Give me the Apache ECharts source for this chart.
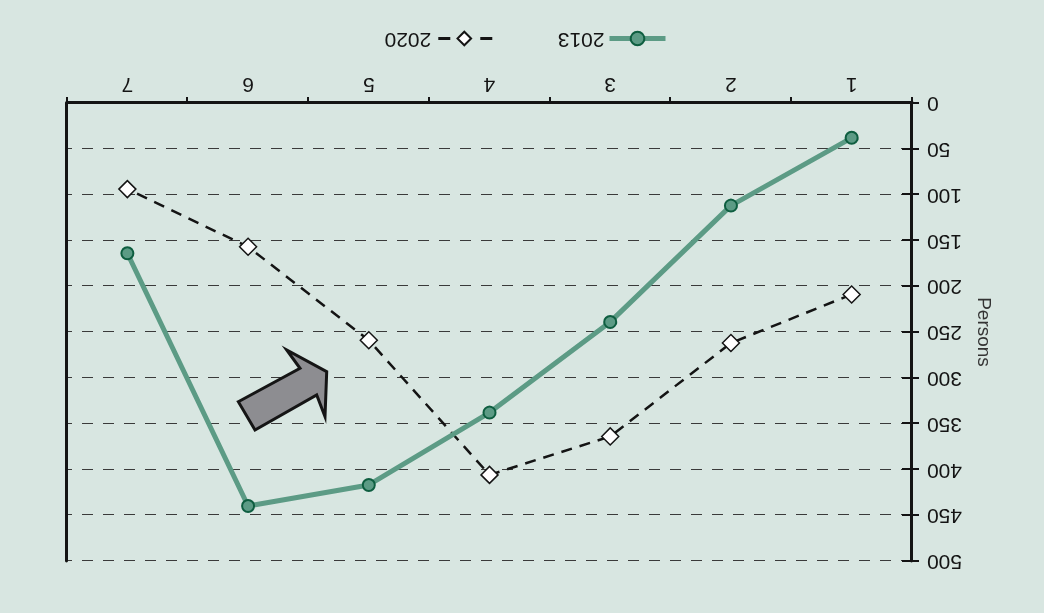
<!DOCTYPE html>
<html>
<head>
<meta charset="utf-8">
<script src="https://cdn.jsdelivr.net/npm/echarts@6/dist/echarts.min.js"></script>
<style>
  html, body { margin: 0; padding: 0; background: #d8e6e1; }
  #chart { width: 1044px; height: 613px; transform: rotate(180deg); transform-origin: 50% 50%; }
</style>
</head>
<body>
<div id="chart"></div>
<script>
// Categories along the horizontal axis
const categories = ['1', '2', '3', '4', '5', '6', '7'];
// Persons per category
const persons2013 = [38, 112, 239, 338, 417, 440, 164];
const persons2020 = [209, 262, 364, 406, 259, 157, 94];
// Vertical scale
const yMin = 0;
const yMax = 500;
const yStep = 50;
const yTitle = 'Persons';

const FONT = '"Liberation Sans", Arial, sans-serif';
const INK = '#141414';
const GREEN = '#5c9b85';
const GREEN_DARK = '#0e5e40';

const chart = echarts.init(document.getElementById('chart'), null, { renderer: 'canvas' });

chart.setOption({
  backgroundColor: '#d8e6e1',
  animation: false,
  textStyle: { fontFamily: FONT },
  grid: { left: 132, right: 67, top: 52, bottom: 103, containLabel: false },
  legend: {
    left: 371,
    top: 559,
    itemWidth: 56,
    itemHeight: 17,
    itemGap: 64,
    textStyle: { fontSize: 21, color: INK, fontFamily: FONT },
    data: [
      { name: '2013', lineStyle: { width: 5, color: GREEN } },
      { name: '2020', lineStyle: { width: 3, color: INK, type: [12, 30] } }
    ]
  },
  xAxis: {
    type: 'category',
    data: categories,
    boundaryGap: true,
    axisLine: { show: true, lineStyle: { color: INK, width: 3 } },
    axisTick: { show: true, length: 6, lineStyle: { color: INK, width: 2 } },
    axisLabel: { fontSize: 21, color: INK, margin: 9, fontFamily: FONT },
    splitLine: { show: false }
  },
  yAxis: [
    {
      type: 'value',
      position: 'left',
      min: yMin, max: yMax, interval: yStep,
      name: yTitle,
      nameLocation: 'middle',
      nameGap: 62,
      nameTextStyle: { fontSize: 19, color: '#333', fontFamily: FONT },
      axisLine: { show: true, lineStyle: { color: INK, width: 3 } },
      axisTick: { show: true, length: 7, lineStyle: { color: INK, width: 2 } },
      axisLabel: { fontSize: 21, color: INK, margin: 15, fontFamily: FONT },
      splitLine: { show: true, lineStyle: { color: '#3a3a3a', width: 1, type: [11, 10] } }
    },
    {
      // frame line on the opposite side
      type: 'value',
      position: 'right',
      min: yMin, max: yMax, interval: yStep,
      axisLine: { show: true, lineStyle: { color: INK, width: 3 } },
      axisTick: { show: false },
      axisLabel: { show: false },
      splitLine: { show: false }
    },
    {
      // inner half of the crossing ticks
      type: 'value',
      position: 'left',
      min: yMin, max: yMax, interval: yStep,
      axisLine: { show: false },
      axisTick: { show: true, inside: true, length: 10, lineStyle: { color: INK, width: 2 } },
      axisLabel: { show: false },
      splitLine: { show: false }
    }
  ],
  series: [
    {
      name: '2013',
      type: 'line',
      data: persons2013,
      symbol: 'circle',
      symbolSize: 12,
      lineStyle: { color: GREEN, width: 5 },
      itemStyle: { color: GREEN, borderColor: GREEN_DARK, borderWidth: 2 },
      z: 3
    },
    {
      name: '2020',
      type: 'line',
      data: persons2020,
      symbol: 'diamond',
      symbolSize: [17, 17],
      lineStyle: { color: INK, width: 2.5, type: [11, 8] },
      itemStyle: { color: '#ffffff', borderColor: INK, borderWidth: 1.5 },
      z: 2
    }
  ],
  graphic: [
    {
      type: 'polygon',
      z: 10,
      shape: {
        points: [
          [805.7, 211.3], [744, 244.7], [757.3, 263], [717.3, 241.3],
          [719, 196.3], [727.3, 218], [789, 183]
        ]
      },
      style: { fill: '#8d8d91', stroke: '#151515', lineWidth: 3, lineJoin: 'miter' }
    }
  ]
});
</script>
</body>
</html>
